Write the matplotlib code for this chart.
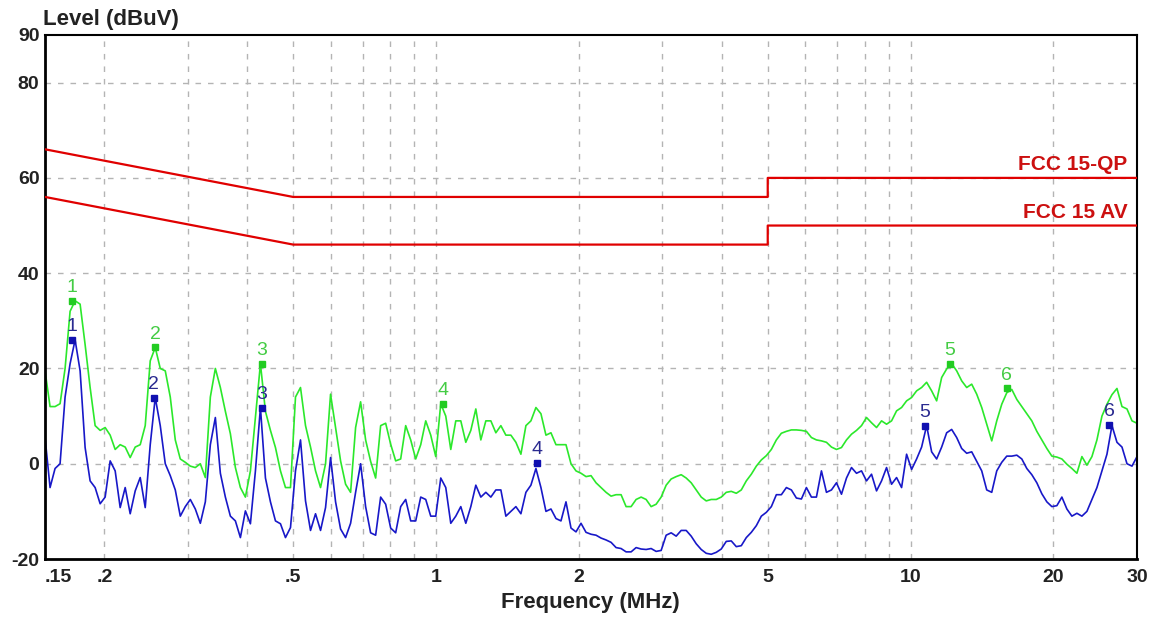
import numpy as np
import matplotlib
matplotlib.use("Agg")
import matplotlib.pyplot as plt
from matplotlib.ticker import FixedLocator, NullFormatter

plt.rcParams['font.family'] = ['Liberation Sans', 'DejaVu Sans']
plt.rcParams['axes.unicode_minus'] = False

# limit lines (MHz, dBuV)
limit_freq = [0.15, 0.5, 5, 5, 30]
limit_qp = [66, 56, 56, 60, 60]
limit_av = [56, 46, 46, 50, 50]

# sweep levels, one value per step of the sweep
qp_level = [
    19.5, 12, 12, 12.6, 20, 32, 34.2, 33.5, 25, 16,
    8, 7, 7.6, 6, 3, 4, 3.5, 1.3, 3.5, 4,
    8, 21.6, 24.4, 20, 19.5, 14, 5, 1, 0.3, -0.5,
    -0.8, 0, -2.9, 14, 20, 16, 11, 6.3, -0.8, -5,
    -7, -1.5, 9.7, 21, 11, 7, 3.4, -1.5, -5, -5,
    14, 16, 8, 3.5, -1.5, -5, 0, 14.6, 7.6, 0.6,
    -4.3, -6, 7.6, 13, 5, 0.5, -3, 8, 8.5, 4.1,
    0.6, 1, 8, 5, 1, 4, 9, 6, 1.5, 12.6,
    10, 3, 9, 9, 4.5, 7, 11.5, 5, 9, 9,
    6.5, 8, 6, 6, 4.5, 2, 8, 9, 11.8, 10.5,
    6, 6.5, 4, 4, 4, 0, -1.5, -2, -2.7, -2.5,
    -4, -5, -6, -6.8, -6.5, -6.5, -9, -9, -7.5, -7,
    -7.5, -9, -8.5, -7, -4.5, -3.2, -2.7, -2.3, -3, -4,
    -5.5, -7, -7.8, -7.5, -7.5, -7, -6, -5.8, -6.2, -5.5,
    -3.6, -2.2, -0.5, 0.8, 1.7, 3, 5, 6.4, 6.8, 7.1,
    7.1, 7, 6.8, 5.5, 5, 4.8, 4.5, 3.5, 3, 3.4,
    5, 6.2, 7, 8, 9.7, 8.6, 7.6, 9, 8.3, 9,
    11.1, 11.8, 13.2, 13.9, 15.3, 16, 17.1, 15.3, 13.2, 18.1,
    19.9, 21, 19.5, 17.4, 16, 16.7, 14.6, 11.8, 8.3, 4.8,
    9, 12.5, 14.9, 15.6, 13.5, 12, 10.5, 9, 6.8, 5,
    3.2, 1.6, 1.4, 1, -0.1, -1, -2, 1.5, -0.3, 1.5,
    5, 10, 12.5, 14.5, 15.8, 12, 11.5, 9, 8.5,
]

av_level = [
    5.5, -5, -1, 0, 14, 21, 26, 19.5, 3.4, -3.6,
    -5, -8.4, -7, 0.6, -1.5, -9.2, -5, -10.5, -5.7, -2.9,
    -9.2, 4, 13.9, 8, 0, -2.5, -5.5, -11, -9, -7.5,
    -9.5, -12.5, -8, 4, 9.7, -2, -7, -11, -12, -15.5,
    -9.9, -12.6, -1.5, 11.8, -3, -8, -12, -12.6, -15.5, -13.4,
    -1.5, 5, -7.8, -14, -10.5, -14, -9.2, 1.3, -8, -13.7,
    -15.5, -12.5, -6, 0, -9, -14.5, -15, -7, -8.5, -13.5,
    -14.5, -9, -7.5, -12, -12, -7, -7.5, -11, -11, -3,
    -5, -12.5, -11, -9, -12.5, -9, -4.5, -7, -6, -7,
    -5.5, -5.5, -11, -10, -9, -10.5, -6, -4.5, -1, -5,
    -10, -9.5, -11.5, -12, -8, -13.5, -14.3, -12.5, -14.4, -14.8,
    -15, -15.6, -16, -16.5, -17.6, -17.8, -18.5, -18.5, -17.6, -17.9,
    -18, -17.8, -18.4, -18.2, -15, -14.5, -15.2, -14, -14, -15.2,
    -16.8, -18, -18.8, -19, -18.6, -17.9, -16.3, -16.2, -17.4, -17.2,
    -15.5, -14.4, -13, -11, -10.2, -9, -6.5, -6.5, -5, -5.5,
    -7.2, -7.4, -5, -7, -7, -1.5, -6, -5.5, -4, -6.4,
    -3, -0.8, -2, -1.5, -3.6, -2.2, -5.7, -3.6, -0.8, -4.3,
    -2.9, -5, 2, -1.2, 1, 3.5, 8, 2.5, 1, 3.5,
    6.5, 7.2, 5.5, 3.2, 2.2, 2.5, 0.5, -1.5, -5.5, -6,
    -1.5, 0.3, 1.6, 1.6, 1.8, 1, -1, -2.3, -4, -6.3,
    -8, -9, -8.8, -7, -9.5, -11, -10.4, -11, -10, -7.5,
    -5, -1.5, 2, 8, 4.5, 3.5, 0, -0.5, 1.5,
]

# sweep frequencies: log spaced from 0.15 to 30 MHz
sweep_freq = np.geomspace(0.15, 30, len(qp_level))

# peak markers
qp_mark_freq = [0.171, 0.256, 0.430, 1.035, 12.1, 15.96]
qp_mark_level = [34.2, 24.4, 21.0, 12.6, 21.0, 15.8]
av_mark_freq = [0.171, 0.254, 0.430, 1.63, 10.7, 26.2]
av_mark_level = [26.0, 13.9, 11.8, 0.2, 8.0, 8.2]
mark_labels = ['1', '2', '3', '4', '5', '6']

x_tick_vals = [0.15, 0.2, 0.5, 1, 2, 5, 10, 20, 30]
x_tick_text = ['.15', '.2', '.5', '1', '2', '5', '10', '20', '30']
x_grid_vals = [0.2, 0.3, 0.4, 0.5, 0.6, 0.7, 0.8, 0.9, 1,
               2, 3, 4, 5, 6, 7, 8, 9, 10, 20]
y_tick_vals = [-20, 0, 20, 40, 60, 80, 90]
y_grid_vals = [0, 20, 40, 60, 80]

green = '#2be82b'
blue = '#1818c8'
red = '#e00000'

fig = plt.figure(figsize=(11.7, 6.19), dpi=100)
ax = fig.add_axes([0.0385, 0.0969, 0.9333, 0.8466])
ax.set_xscale('log')
ax.set_xlim(0.15, 30)
ax.set_ylim(-20, 90)

for gx in x_grid_vals:
    ax.axvline(gx, color='#b4b4b4', lw=1, ls=(0, (4, 5)), zorder=0)
for gy in y_grid_vals:
    ax.axhline(gy, color='#b4b4b4', lw=1, ls=(0, (4, 5)), zorder=0)

ax.plot(limit_freq, limit_qp, color=red, lw=1.6, zorder=3)
ax.plot(limit_freq, limit_av, color=red, lw=1.6, zorder=3)
ax.text(28.6, 61.6, 'FCC 15-QP', color='#cc1010', fontsize=15,
        fontweight='bold', ha='right', va='baseline')
ax.text(28.6, 51.5, 'FCC 15 AV', color='#cc1010', fontsize=15,
        fontweight='bold', ha='right', va='baseline')

ax.plot(sweep_freq, qp_level, color=green, lw=1.2, zorder=2)
ax.plot(sweep_freq, av_level, color=blue, lw=1.2, zorder=2)

ax.plot(qp_mark_freq, qp_mark_level, 's', color='#22cc22', ms=4, zorder=4)
ax.plot(av_mark_freq, av_mark_level, 's', color='#1010b0', ms=4, zorder=4)
for f, lv, lab in zip(qp_mark_freq, qp_mark_level, mark_labels):
    ax.text(f, lv + 1.0, lab, color='#44cc44', fontsize=14, ha='center', va='bottom', zorder=5)
for f, lv, lab in zip(av_mark_freq, av_mark_level, mark_labels):
    ax.text(f, lv + 1.0, lab, color='#2a2a90', fontsize=14, ha='center', va='bottom', zorder=5)

ax.xaxis.set_major_locator(FixedLocator(x_tick_vals))
ax.xaxis.set_minor_locator(FixedLocator([]))
ax.xaxis.set_minor_formatter(NullFormatter())
ax.set_xticklabels(x_tick_text)
ax.set_yticks(y_tick_vals)
ax.tick_params(length=0, labelsize=14)
ax.tick_params(axis='x', pad=7)
ax.tick_params(axis='y', pad=4)
for lab in ax.get_xticklabels() + ax.get_yticklabels():
    lab.set_fontweight('bold')
    lab.set_color('#222222')
ax.get_xticklabels()[0].set_horizontalalignment('left')

for side in ['left', 'bottom']:
    ax.spines[side].set_linewidth(2.0)
for side in ['top', 'right']:
    ax.spines[side].set_linewidth(1.5)

fig.text(0.0368, 0.969, 'Level (dBuV)', fontsize=16, fontweight='bold',
         ha='left', va='center', color='#222222')
fig.text(0.505, 0.027, 'Frequency (MHz)', fontsize=16, fontweight='bold',
         ha='center', va='center', color='#222222')

fig.savefig('out.png', dpi=100)
